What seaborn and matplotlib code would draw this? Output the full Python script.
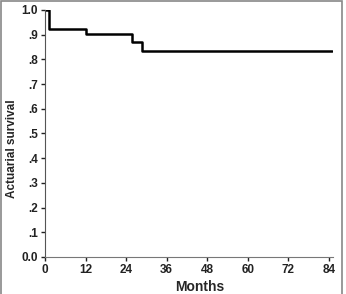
import matplotlib
matplotlib.use("Agg")
import matplotlib.pyplot as plt
import matplotlib.patches as patches
import seaborn as sns
import pandas as pd

# Kaplan-Meier style step data
months = [0, 1.2, 12, 25.7, 28.6, 85]
survival = [1.0, 0.922, 0.902, 0.869, 0.832, 0.832]

x_ticks = [0, 12, 24, 36, 48, 60, 72, 84]
y_ticks = [0.0, 0.1, 0.2, 0.3, 0.4, 0.5, 0.6, 0.7, 0.8, 0.9, 1.0]
y_labels = ["0.0", ".1", ".2", ".3", ".4", ".5", ".6", ".7", ".8", ".9", "1.0"]

df = pd.DataFrame({"Months": months, "Survival": survival})

sns.set_style("ticks")
plt.rcParams["font.family"] = ["Liberation Sans", "DejaVu Sans"]

fig = plt.figure(figsize=(3.46, 2.94), dpi=100)
ax = fig.add_axes([0.130, 0.126, 0.832, 0.840])

sns.lineplot(data=df, x="Months", y="Survival", drawstyle="steps-post",
             color="black", linewidth=1.8, ax=ax)

ax.set_xlim(0, 85.2)
ax.set_ylim(0, 1.0)
ax.set_xticks(x_ticks)
ax.set_yticks(y_ticks)
ax.set_yticklabels(y_labels)
ax.tick_params(axis="both", length=3, width=1, labelsize=8.5, pad=2, colors="#222222")
for lab in ax.get_xticklabels() + ax.get_yticklabels():
    lab.set_fontweight("bold")

ax.set_xlabel("Months", fontsize=10, fontweight="bold")
ax.xaxis.set_label_coords(0.536, -0.095)
ax.set_ylabel("Actuarial survival", fontsize=8.5, fontweight="bold")
ax.yaxis.set_label_coords(-0.095, 0.44)

sns.despine(ax=ax)
ax.spines["left"].set_color("#555555")
ax.spines["bottom"].set_color("#777777")

# gray frame around the figure
fig.patches.append(patches.Rectangle((0.003, -0.01), 0.984, 1.005, transform=fig.transFigure,
                                     fill=False, edgecolor="#888888", linewidth=1.2))

plt.savefig("out.png", dpi=100)
